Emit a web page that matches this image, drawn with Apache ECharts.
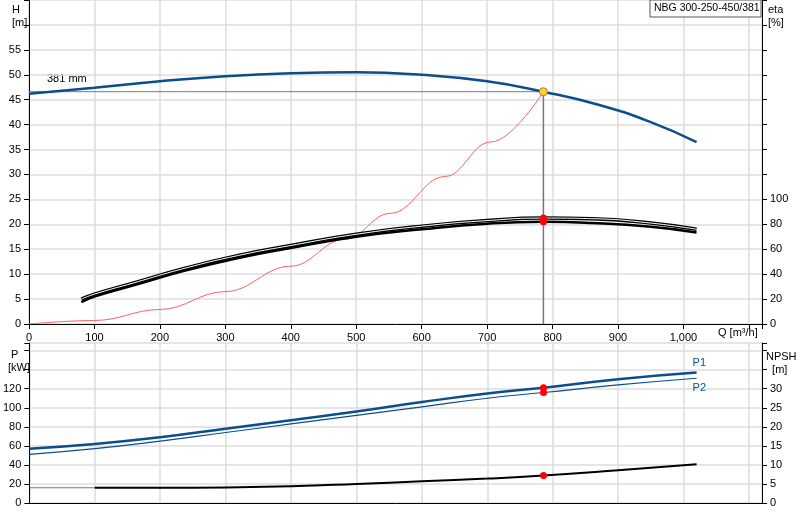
<!DOCTYPE html><html><head><meta charset="utf-8"><script src="https://cdn.jsdelivr.net/npm/echarts@6/dist/echarts.min.js"></script></head><body style="margin:0"><div id="c" style="width:800px;height:520px"></div><script>
const qH=[0,100,200,300,400,500,600,700,786,870,950,1020];
const H=[46.2,47.4,48.7,49.7,50.3,50.5,50.0,48.7,46.6,44,40.5,36.5];
const qSys=[0,100,200,300,400,483,552,636,705,786];
const sys=[0,0.7,2.9,6.5,11.6,17,22.2,29.6,36.5,46.6];
const qEta=[80,100,160,240,320,400,500,600,700,786,860,950,1020];
const eta1=[20,24,33,45,55,63,72,78.5,83,85,84.5,81,76];
const eta2=[17.6,22,31,43,53,61,70,76,80.5,82,81,78,73.5];
const qP=[0,100,200,300,400,500,600,700,786,900,1020];
const P1=[57,62,69,78,87,96,106,115,121,130,137];
const P2=[51,57,65,74,83,92,101,110,116,124,131];
const qN=[100,200,300,400,500,600,700,786,900,1020];
const NPSH=[4,4,4.1,4.4,5,5.7,6.4,7.2,8.6,10.2];
const opQ=786, opH=46.6;
const z=(a,b)=>a.map((v,i)=>[v,b[i]]);
const grid='#dcdcdc', f={fontFamily:'Arial',fontSize:11,color:'#000'};
const ax={axisLine:{show:true,lineStyle:{color:'#000'}},axisTick:{show:true,lineStyle:{color:'#000'}},splitLine:{lineStyle:{color:grid,width:1.5}}};
const red={color:'#f00',opacity:1};
const c=echarts.init(document.getElementById('c'));
c.setOption({animation:false,
grid:[{left:29,right:38,top:0,height:324},{left:29,right:38,top:343,bottom:17}],
xAxis:[{gridIndex:0,type:'value',min:0,max:1120,interval:100,...ax,axisLabel:{...f,formatter:v=>v>1000?'':v.toLocaleString('en-US')}},
{gridIndex:1,type:'value',min:0,max:1120,interval:100,...ax,axisLabel:{show:false},axisTick:{show:false}}],
yAxis:[{gridIndex:0,min:0,max:65,interval:5,...ax,axisLabel:{...f,formatter:v=>v>55?'':v}},
{gridIndex:0,min:0,max:260,interval:20,position:'right',...ax,splitLine:{show:false},axisLabel:{...f,formatter:v=>v>100?'':v}},
{gridIndex:1,min:0,max:168,interval:20,...ax,axisLabel:{...f,formatter:v=>v>120?'':v}},
{gridIndex:1,min:0,max:42,interval:5,position:'right',...ax,splitLine:{show:false},axisLabel:{...f,formatter:v=>v>=35?'':v}}],
graphic:[
{type:'text',left:12,top:3,style:{text:'H\n[m]',font:'11px Arial',fill:'#000',lineHeight:13}},
{type:'text',left:768,top:3,style:{text:'eta\n[%]',font:'11px Arial',fill:'#000',lineHeight:13}},
{type:'text',left:8,top:348,style:{text:' P\n[kW]',font:'11px Arial',fill:'#000',lineHeight:13}},
{type:'text',left:766,top:350,style:{text:'NPSH\n  [m]',font:'11px Arial',fill:'#000',lineHeight:13}},
{type:'text',left:718,top:327,style:{text:'Q [m³/h]',font:'11px Arial',fill:'#000'}},
{type:'rect',z:10,shape:{x:650,y:0,width:111,height:17},style:{fill:'#fff',stroke:'#555'}},
{type:'text',z:11,left:654,top:3,style:{text:'NBG 300-250-450/381',font:'10.5px Arial',fill:'#000'}},
{type:'text',left:47,top:73,style:{text:'381 mm',font:'11px Arial',fill:'#000'}}
],
series:[
{type:'line',data:[[0,opH],[opQ,opH]],symbol:'none',lineStyle:{color:'#777',width:1}},
{type:'line',data:[[opQ,0],[opQ,opH]],symbol:'none',lineStyle:{color:'#777',width:1.5}},
{type:'line',data:z(qH,H),smooth:true,symbol:'none',lineStyle:{color:'#0c4d8c',width:2.5}},
{type:'line',data:z(qSys,sys),smooth:0.4,smoothMonotone:'x',symbol:'none',lineStyle:{color:'#ff6060',width:1}},
{type:'line',yAxisIndex:1,data:z(qEta,eta1),smooth:true,symbol:'none',lineStyle:{color:'#000',width:3.5}},
{type:'line',yAxisIndex:1,data:z(qEta,eta1),smooth:true,symbol:'none',lineStyle:{color:'#fff',width:1}},
{type:'line',yAxisIndex:1,data:z(qEta,eta2),smooth:true,symbol:'none',lineStyle:{color:'#000',width:2.5}},
{type:'scatter',z:5,yAxisIndex:1,data:[[opQ,eta1[9]],[opQ,eta2[9]]],symbolSize:7,itemStyle:red},
{type:'scatter',z:5,data:[[opQ,opH]],symbolSize:8,itemStyle:{color:'#ffd040',borderColor:'#c08000',borderWidth:1,opacity:1}},
{type:'line',xAxisIndex:1,yAxisIndex:2,data:z(qP,P1),smooth:true,symbol:'none',lineStyle:{color:'#0c4d8c',width:2.5},endLabel:{show:true,formatter:'P1',offset:[-12,-10],color:'#0c4d8c',fontSize:11}},
{type:'line',xAxisIndex:1,yAxisIndex:2,data:z(qP,P2),smooth:true,symbol:'none',lineStyle:{color:'#0c4d8c',width:1.2},endLabel:{show:true,formatter:'P2',offset:[-12,10],color:'#0c4d8c',fontSize:11}},
{type:'scatter',z:5,xAxisIndex:1,yAxisIndex:2,data:[[opQ,P1[8]],[opQ,P2[8]]],symbolSize:7,itemStyle:red},
{type:'line',xAxisIndex:1,yAxisIndex:3,data:[[0,4],[100,4]],symbol:'none',lineStyle:{color:'#777',width:1}},
{type:'line',xAxisIndex:1,yAxisIndex:3,data:z(qN,NPSH),smooth:true,symbol:'none',lineStyle:{color:'#000',width:2}},
{type:'scatter',z:5,xAxisIndex:1,yAxisIndex:3,data:[[opQ,NPSH[7]]],symbolSize:7,itemStyle:red}
]});
</script></body></html>
